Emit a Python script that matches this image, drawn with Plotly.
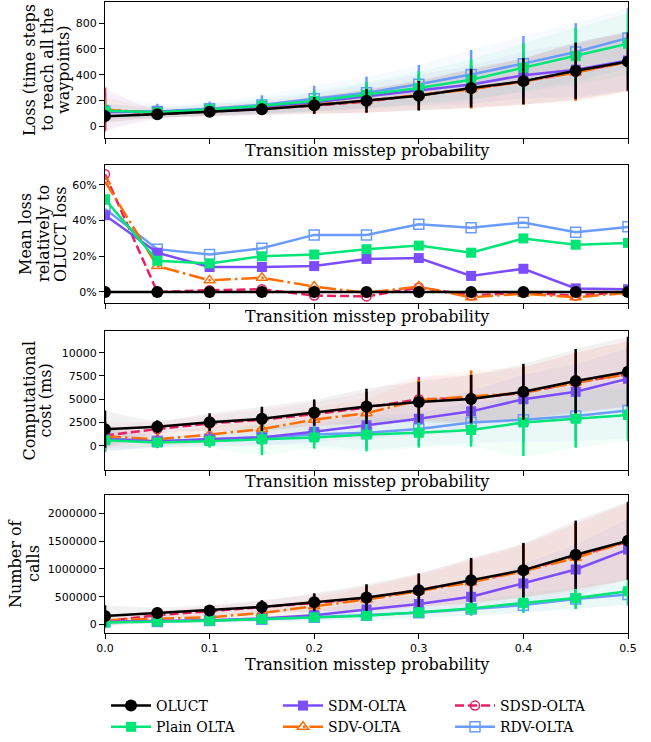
import plotly.graph_objects as go

# ---------------- data ----------------
x_prob = [0.0, 0.05, 0.1, 0.15, 0.2, 0.25, 0.3, 0.35, 0.4, 0.45, 0.5]
series_names = ["OLUCT", "Plain OLTA", "SDM-OLTA", "SDV-OLTA", "SDSD-OLTA", "RDV-OLTA"]

# Panel 1: loss (time steps to reach all the waypoints)
loss_oluct = [78, 92, 112, 132, 162, 197, 236, 296, 350, 430, 502]
loss_plain = [119, 108, 130, 158, 196, 244, 297, 361, 455, 544, 640]
loss_sdm = [111, 112, 128, 150, 186, 233, 281, 323, 396, 439, 510]
loss_sdv = [126, 105, 119, 143, 167, 196, 243, 287, 347, 417, 500]
loss_sdsd = [130, 92, 113, 134, 159, 192, 242, 290, 348, 421, 502]
loss_rdv = [115, 114, 136, 165, 214, 260, 326, 402, 486, 576, 685]

loss_std_oluct = [50, 30, 35, 45, 65, 90, 115, 150, 180, 220, 225]
loss_std_plain = [60, 40, 45, 55, 80, 100, 130, 160, 190, 220, 240]
loss_std_sdm = [60, 40, 45, 50, 70, 95, 120, 150, 180, 210, 230]
loss_std_sdv = [100, 40, 40, 45, 65, 90, 115, 150, 180, 220, 230]
loss_std_sdsd = [170, 35, 40, 45, 65, 90, 115, 150, 180, 220, 230]
loss_std_rdv = [140, 60, 55, 75, 100, 125, 150, 190, 215, 225, 235]

# Panel 2: mean loss relative to OLUCT loss
rel_oluct = [0, 0, 0, 0, 0, 0, 0, 0, 0, 0, 0]
rel_plain = [0.52, 0.175, 0.16, 0.20, 0.21, 0.24, 0.26, 0.22, 0.30, 0.265, 0.275]
rel_sdm = [0.43, 0.22, 0.14, 0.14, 0.145, 0.185, 0.19, 0.09, 0.13, 0.02, 0.015]
rel_sdv = [0.62, 0.145, 0.065, 0.08, 0.03, -0.005, 0.03, -0.03, -0.01, -0.03, -0.005]
rel_sdsd = [0.66, 0.0, 0.01, 0.015, -0.02, -0.025, 0.025, -0.02, -0.005, -0.02, 0.0]
rel_rdv = [0.465, 0.24, 0.21, 0.245, 0.32, 0.32, 0.38, 0.36, 0.39, 0.335, 0.365]

# Panel 3: computational cost (ms)
cost_oluct = [1790, 2040, 2540, 2900, 3580, 4230, 4700, 5020, 5800, 6950, 7960]
cost_plain = [600, 350, 500, 700, 900, 1200, 1400, 1700, 2500, 2900, 3300]
cost_sdm = [700, 450, 700, 900, 1500, 2200, 2900, 3700, 5000, 5800, 7200]
cost_sdv = [1000, 700, 1200, 1800, 2800, 3500, 4900, 5300, 5700, 6800, 7700]
cost_sdsd = [1100, 1800, 2400, 2800, 3400, 4100, 5000, 5100, 5700, 6800, 7700]
cost_rdv = [800, 500, 700, 900, 1200, 1400, 1800, 2500, 2800, 3200, 3800]

cost_std_oluct = [2000, 700, 950, 1300, 1400, 1900, 2200, 2600, 3000, 3450, 3750]
cost_std_plain = [1200, 500, 700, 1700, 1200, 1800, 1600, 1800, 3600, 3100, 2800]
cost_std_sdm = [1200, 700, 800, 900, 1100, 1400, 1800, 2200, 2600, 3000, 3300]
cost_std_sdv = [1200, 800, 900, 1000, 1300, 1600, 2200, 2800, 2800, 3200, 3500]
cost_std_sdsd = [1500, 800, 900, 1100, 1300, 1700, 2400, 2500, 2800, 3200, 3500]
cost_std_rdv = [1500, 600, 700, 800, 1100, 1800, 1800, 2200, 2400, 2700, 3000]

# Panel 4: number of calls
calls_oluct = [156000, 210000, 252000, 318000, 402000, 486000, 619000, 799000, 979000, 1255000, 1507000]
calls_plain = [40000, 55000, 70000, 100000, 130000, 160000, 220000, 290000, 390000, 480000, 600000]
calls_sdm = [50000, 60000, 80000, 110000, 170000, 270000, 370000, 500000, 740000, 990000, 1350000]
calls_sdv = [80000, 100000, 130000, 210000, 330000, 450000, 600000, 760000, 960000, 1200000, 1500000]
calls_sdsd = [60000, 170000, 240000, 310000, 390000, 470000, 620000, 780000, 970000, 1230000, 1490000]
calls_rdv = [50000, 55000, 75000, 95000, 130000, 170000, 215000, 280000, 350000, 460000, 540000]

calls_std_oluct = [190000, 100000, 100000, 120000, 160000, 240000, 300000, 400000, 490000, 615000, 700000]
calls_std_plain = [40000, 30000, 35000, 45000, 60000, 80000, 100000, 130000, 170000, 200000, 230000]
calls_std_sdm = [60000, 40000, 50000, 60000, 90000, 140000, 180000, 250000, 350000, 450000, 550000]
calls_std_sdv = [100000, 70000, 80000, 110000, 150000, 220000, 290000, 390000, 470000, 600000, 680000]
calls_std_sdsd = [120000, 80000, 90000, 120000, 160000, 230000, 300000, 400000, 480000, 600000, 700000]
calls_std_rdv = [40000, 30000, 35000, 45000, 60000, 80000, 90000, 110000, 140000, 170000, 200000]

x_ticks = [0.0, 0.1, 0.2, 0.3, 0.4, 0.5]
x_tick_labels = ["0.0", "0.1", "0.2", "0.3", "0.4", "0.5"]

y_title_lines = [["Loss (time steps", "to reach all the", "waypoints)"],
                 ["Mean loss", "relatively to", "OLUCT loss"],
                 ["Computational", "cost (ms)"],
                 ["Number of", "calls"]]
x_title = "Transition misstep probability"

# ---------------- styles ----------------
SERIF = "DejaVu Serif"
SANS = "DejaVu Sans"
style = {
    "OLUCT": dict(color="#000000", rgb=(0, 0, 0), symbol="circle", size=12, dash="solid", rank=1),
    "Plain OLTA": dict(color="#00e676", rgb=(0, 230, 118), symbol="square", size=10, dash="solid", rank=4),
    "SDM-OLTA": dict(color="#7c4dff", rgb=(124, 77, 255), symbol="square", size=10, dash="solid", rank=2),
    "SDV-OLTA": dict(color="#ff6d00", rgb=(255, 109, 0), symbol="triangle-up-open", size=10,
                     dash="16px,4px,2.5px,4px", rank=5),
    "SDSD-OLTA": dict(color="#e91e63", rgb=(233, 30, 99), symbol="circle-open", size=9,
                      dash="9px,4px", rank=3),
    "RDV-OLTA": dict(color="#6a9bff", rgb=(106, 155, 255), symbol="square-open", size=10, dash="solid", rank=6),
}

panels = [
    dict(means=dict(zip(series_names, [loss_oluct, loss_plain, loss_sdm, loss_sdv, loss_sdsd, loss_rdv]))),
    dict(means=dict(zip(series_names, [rel_oluct, rel_plain, rel_sdm, rel_sdv, rel_sdsd, rel_rdv]))),
    dict(means=dict(zip(series_names, [cost_oluct, cost_plain, cost_sdm, cost_sdv, cost_sdsd, cost_rdv]))),
    dict(means=dict(zip(series_names, [calls_oluct, calls_plain, calls_sdm, calls_sdv, calls_sdsd, calls_rdv]))),
]
panels[0]["stds"] = dict(zip(series_names, [loss_std_oluct, loss_std_plain, loss_std_sdm, loss_std_sdv, loss_std_sdsd, loss_std_rdv]))
panels[1]["stds"] = None
panels[2]["stds"] = dict(zip(series_names, [cost_std_oluct, cost_std_plain, cost_std_sdm, cost_std_sdv, cost_std_sdsd, cost_std_rdv]))
panels[3]["stds"] = dict(zip(series_names, [calls_std_oluct, calls_std_plain, calls_std_sdm, calls_std_sdv, calls_std_sdsd, calls_std_rdv]))

draw_order = ["RDV-OLTA", "SDSD-OLTA", "SDV-OLTA", "SDM-OLTA", "Plain OLTA", "OLUCT"]

fig = go.Figure()

for pi, panel in enumerate(panels):
    xa = "x" if pi == 0 else f"x{pi+1}"
    ya = "y" if pi == 0 else f"y{pi+1}"
    stds = panel["stds"]
    # shaded bands first
    if stds is not None:
        for name in draw_order:
            m = panel["means"][name]
            s = stds[name]
            r, g, b = style[name]["rgb"]
            lo = [a - d for a, d in zip(m, s)]
            hi = [a + d for a, d in zip(m, s)]
            fig.add_trace(go.Scatter(x=x_prob, y=lo, mode="lines", line=dict(width=0, shape="spline"),
                                     xaxis=xa, yaxis=ya, showlegend=False, hoverinfo="skip"))
            fig.add_trace(go.Scatter(x=x_prob, y=hi, mode="lines", line=dict(width=0, shape="spline"),
                                     fill="tonexty", fillcolor=f"rgba({r},{g},{b},0.05)",
                                     xaxis=xa, yaxis=ya, showlegend=False, hoverinfo="skip"))
    for name in draw_order:
        st = style[name]
        m = panel["means"][name]
        open_marker = st["symbol"].endswith("open")
        err = None
        if stds is not None:
            err = dict(type="data", array=stds[name], visible=True, thickness=2.5, width=0, color=st["color"])
        fig.add_trace(go.Scatter(
            x=x_prob, y=m, mode="lines+markers", name=name,
            line=dict(color=st["color"], width=2.5, dash=st["dash"]),
            marker=dict(symbol=st["symbol"], size=st["size"], color=st["color"],
                        line=dict(color=st["color"], width=1.5 if open_marker else 0)),
            error_y=err, xaxis=xa, yaxis=ya,
            showlegend=(pi == 0), legendrank=st["rank"],
        ))

# ---------------- layout ----------------
W, H = 651, 742
ML, MR, MT, MB = 105, 23, 2, 109
plot_h = H - MT - MB


def dom(top_px, bot_px):
    return [(H - MB - bot_px) / plot_h, (H - MB - top_px) / plot_h]


panel_px = [(2, 138), (165, 303), (331, 470), (495, 633)]
y_ranges = [[-92, 965], [-0.062, 0.712], [-2600, 12330], [-151000, 2330000]]
y_ticks = [[0, 200, 400, 600, 800], [0, 0.2, 0.4, 0.6], [0, 2500, 5000, 7500, 10000],
           [0, 500000, 1000000, 1500000, 2000000]]
y_fmt = ["d", ".0%", "d", "d"]

axis_common = dict(showline=True, linecolor="#000000", linewidth=1, mirror=True, ticks="outside",
                   ticklen=5, tickwidth=1, tickcolor="#000000", showgrid=False, zeroline=False,
                   tickfont=dict(family=SANS, size=11, color="#000000"))

layout = dict(width=W, height=H, margin=dict(l=ML, r=MR, t=MT, b=MB, autoexpand=False),
              plot_bgcolor="white", paper_bgcolor="white", showlegend=True)
for i in range(4):
    sx = "xaxis" if i == 0 else f"xaxis{i+1}"
    sy = "yaxis" if i == 0 else f"yaxis{i+1}"
    layout[sx] = dict(axis_common, domain=[0, 1], range=[0, 0.5], tickvals=x_ticks, ticktext=x_tick_labels,
                      showticklabels=(i == 3), anchor="y" if i == 0 else f"y{i+1}")
    layout[sy] = dict(axis_common, domain=dom(*panel_px[i]), range=y_ranges[i], tickvals=y_ticks[i],
                      tickformat=y_fmt[i], anchor="x" if i == 0 else f"x{i+1}")

layout["legend"] = dict(orientation="h", traceorder="normal",
                        xref="container", yref="container",
                        x=106 / W, y=1 - 690 / H,
                        xanchor="left", yanchor="top",
                        entrywidth=117, entrywidthmode="pixels", itemwidth=40,
                        font=dict(family=SERIF, size=14, color="#000000"), bgcolor="rgba(0,0,0,0)")
fig.update_layout(**layout)


def px_x(p):
    return (p - ML) / (W - ML - MR)


def px_y(p):
    return (H - MB - p) / plot_h


# axis titles as annotations (one per line, rotated)
y_line_x = [[29, 47, 63], [25, 43, 60], [29, 45], [15, 33]]
x_title_y = [150, 316, 481, 664]
for i in range(4):
    top, bot = panel_px[i]
    for line, lx in zip(y_title_lines[i], y_line_x[i]):
        fig.add_annotation(text=line, xref="paper", yref="paper", x=px_x(lx),
                           y=px_y((top + bot) / 2), textangle=-90, showarrow=False,
                           xanchor="center", yanchor="middle",
                           font=dict(family=SERIF, size=16, color="#000000"))
    fig.add_annotation(text=x_title, xref="paper", yref="paper",
                       x=0.5, y=px_y(x_title_y[i]), showarrow=False, xanchor="center", yanchor="middle",
                       font=dict(family=SERIF, size=16, color="#000000"))

fig.write_html("out.html", config={"displayModeBar": False},
               post_script="document.body.style.margin='0';document.body.style.overflow='hidden';")
